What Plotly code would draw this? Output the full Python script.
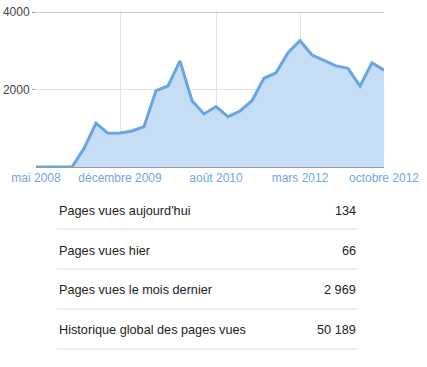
import plotly.graph_objects as go

values = [0, 0, 0, 0, 480, 1130, 870, 880, 930, 1040, 1970, 2090, 2740, 1710, 1370,
          1560, 1300, 1445, 1710, 2290, 2430, 2950, 3260, 2890, 2750, 2610, 2545, 2090, 2690, 2500]
tick_idx = [0, 7, 15, 22, 29]
tick_labels = ["mai 2008", "décembre 2009", "août 2010", "mars 2012", "octobre 2012"]
row_labels = ["Pages vues aujourd'hui", "Pages vues hier", "Pages vues le mois dernier",
              "Historique global des pages vues"]
row_values = ["134", "66", "2 969", "50 189"]

W, H = 427, 367
L, R, T, B = 36, 43, 12, 200
PW, PH = W - L - R, H - T - B

def px(x):
    return (x - L) / PW

def py(y):
    return (H - B - y) / PH

fig = go.Figure()
fig.add_trace(go.Scatter(
    x=list(range(len(values))), y=values, mode="lines",
    line=dict(color="#68a5e3", width=3), fill="tozeroy", fillcolor="#c6ddf6",
    hoverinfo="skip"))

font = "Liberation Sans, Arial, sans-serif"
fig.update_layout(
    width=W, height=H, margin=dict(l=L, r=R, t=T, b=B, autoexpand=False),
    paper_bgcolor="white", plot_bgcolor="white", showlegend=False,
    xaxis=dict(range=[0, len(values) - 1], tickvals=tick_idx, ticktext=tick_labels,
               showgrid=True, gridcolor="#e3e3e3", gridwidth=1, zeroline=False,
               showline=True, linecolor="#999999", linewidth=1, ticks="",
               automargin=False,
               tickfont=dict(family=font, size=12, color="#6fa8dc")),
    yaxis=dict(range=[0, 4000], tickvals=[2000, 4000], ticktext=["2000", "4000"],
               showgrid=True, gridcolor="#e3e3e3", zeroline=False, showline=False,
               ticks="outside", ticklen=3, tickcolor="#999999", automargin=False,
               tickfont=dict(family=font, size=12, color="#444444")),
)
fig.add_shape(type="line", xref="paper", yref="y", x0=0, x1=1, y0=4000, y1=4000,
              line=dict(color="#999999", width=1))

row_y = [211, 251, 290, 330]
sep_y = [229, 269, 309, 349]
for lab, val, ry in zip(row_labels, row_values, row_y):
    fig.add_annotation(x=px(57), y=py(ry), xref="paper", yref="paper", text=lab,
                       showarrow=False, xanchor="left", yanchor="middle",
                       font=dict(family=font, size=12.7, color="#222222"))
    fig.add_annotation(x=px(358), y=py(ry), xref="paper", yref="paper", text=val,
                       showarrow=False, xanchor="right", yanchor="middle",
                       font=dict(family=font, size=12.7, color="#222222"))
for sy in sep_y:
    fig.add_shape(type="line", xref="paper", yref="paper", x0=px(57), x1=px(358),
                  y0=py(sy), y1=py(sy), line=dict(color="#dddddd", width=1))

fig.write_html("out.html")
